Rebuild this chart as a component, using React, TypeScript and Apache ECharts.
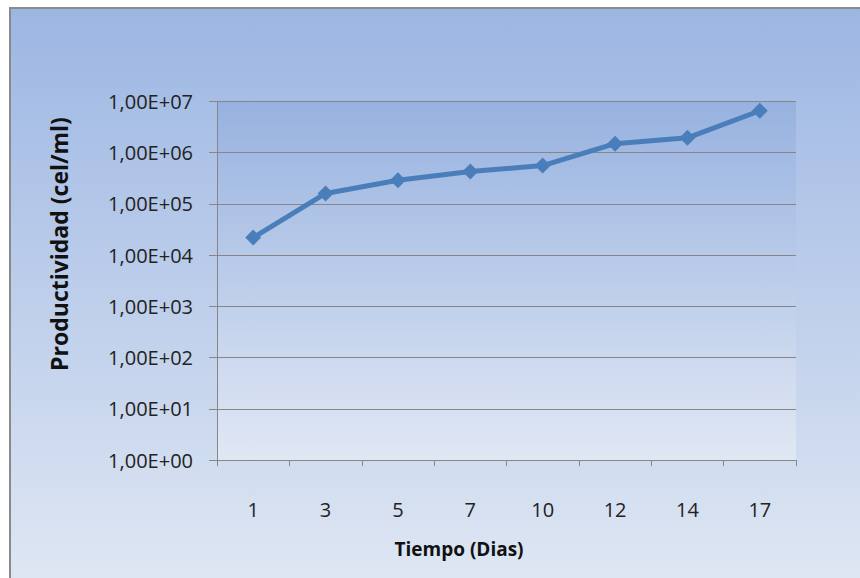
import React, { useEffect, useRef } from "react";
import * as echarts from "echarts";

const days = ["1", "3", "5", "7", "10", "12", "14", "17"];
const productividad = [22000, 160000, 290000, 430000, 560000, 1500000, 1950000, 6600000];
const yTitle = "Productividad (cel/ml)";
const xTitle = "Tiempo (Dias)";

const FONT = "'Open Sans', 'Liberation Sans', sans-serif";

export default function App() {
  const ref = useRef<HTMLDivElement>(null);
  useEffect(() => {
    if (!ref.current) return;
    const chart = echarts.init(ref.current, null, { renderer: "svg" });
    chart.setOption({
      animation: false,
      backgroundColor: "#ffffff",
      graphic: [
        {
          type: "rect",
          z: -10,
          silent: true,
          shape: { x: 9, y: 7, width: 860, height: 580 },
          style: {
            fill: new echarts.graphic.LinearGradient(0, 0, 0, 1, [
              { offset: 0, color: "#9cb6e3" },
              { offset: 1, color: "#dfe7f3" },
            ]),
          },
        },
        {
          type: "line",
          z: -5,
          silent: true,
          shape: { x1: 9, y1: 8, x2: 860, y2: 8 },
          style: { stroke: "#8a8a8a", lineWidth: 2 },
        },
        {
          type: "line",
          z: -5,
          silent: true,
          shape: { x1: 10, y1: 7, x2: 10, y2: 578 },
          style: { stroke: "#8a8a8a", lineWidth: 2 },
        },
        {
          type: "text",
          silent: true,
          x: 59,
          y: 244,
          rotation: Math.PI / 2,
          style: {
            text: yTitle,
            fontFamily: FONT,
            fontSize: 23,
            fontWeight: "bold",
            fill: "#111",
            align: "center",
            verticalAlign: "middle",
          },
        },
        {
          type: "text",
          silent: true,
          x: 459,
          y: 549,
          style: {
            text: xTitle,
            fontFamily: FONT,
            fontSize: 19,
            fontWeight: "bold",
            fill: "#111",
            align: "center",
            verticalAlign: "middle",
          },
        },
      ],
      grid: {
        left: 217,
        top: 101.5,
        width: 579,
        height: 358.5,
        show: true,
        borderWidth: 0,
        backgroundColor: new echarts.graphic.LinearGradient(0, 0, 0, 1, [
          { offset: 0, color: "#97b2e0" },
          { offset: 1, color: "#e1e8f4" },
        ]),
      },
      xAxis: {
        type: "category",
        data: days,
        boundaryGap: true,
        axisLine: { lineStyle: { color: "#868686", width: 1 } },
        axisTick: { show: true, length: 6, alignWithLabel: false, lineStyle: { color: "#868686" } },
        axisLabel: { margin: 39, fontFamily: FONT, fontSize: 20, color: "#222" },
        splitLine: { show: false },
      },
      yAxis: {
        type: "log",
        logBase: 10,
        min: 1,
        max: 10000000,
        axisLine: { show: true, lineStyle: { color: "#868686", width: 1 } },
        axisTick: { show: true, length: 8, lineStyle: { color: "#868686" } },
        axisLabel: {
          margin: 24,
          fontFamily: FONT,
          fontSize: 20,
          color: "#222",
          formatter: (v: number) => {
            const e = Math.round(Math.log10(v));
            return "1,00E+" + (e < 10 ? "0" + e : String(e));
          },
        },
        splitLine: { show: true, lineStyle: { color: "#868686", width: 1 } },
        minorTick: { show: false },
      },
      series: [
        {
          type: "line",
          data: productividad,
          symbol: "diamond",
          symbolSize: 16,
          itemStyle: { color: "#4a7ebb" },
          lineStyle: { color: "#4a7ebb", width: 5 },
        },
      ],
    });
    return () => chart.dispose();
  }, []);
  return (
    <div
      ref={ref}
      style={{ position: "fixed", left: 0, top: 0, width: 860, height: 578 }}
    />
  );
}
